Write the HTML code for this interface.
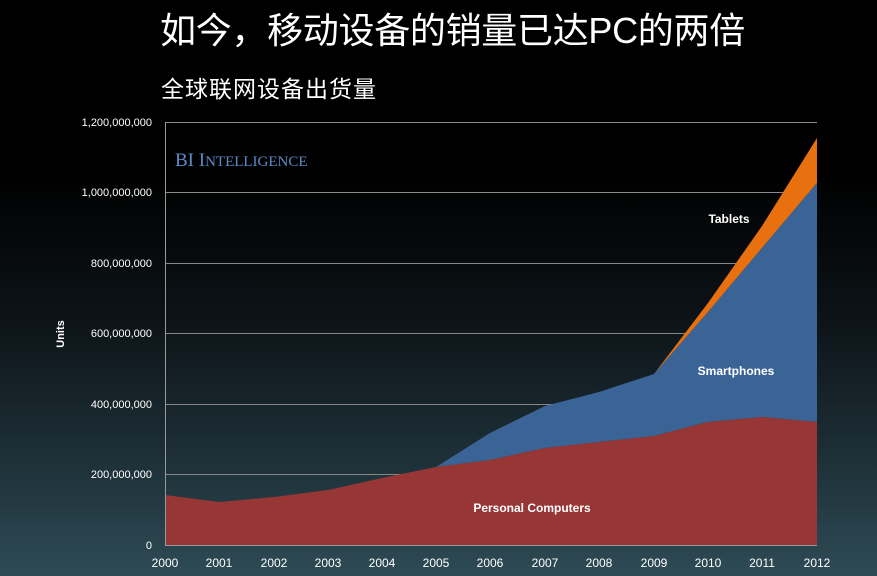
<!DOCTYPE html>
<html><head><meta charset="utf-8"><style>
html,body{margin:0;padding:0}
body{width:877px;height:576px;overflow:hidden;background:linear-gradient(to bottom,#000 0%,#000 30%,#0c1317 55%,#1e3038 80%,#2e4b55 100%);font-family:"Liberation Sans","Noto Sans CJK SC",sans-serif;color:#fff;position:relative}
.t1{position:absolute;left:160px;top:2px;font-size:36px;letter-spacing:-0.3px;white-space:nowrap}
.t2{position:absolute;left:161px;top:70px;font-size:23px;letter-spacing:1px;white-space:nowrap}
</style></head><body>
<div class="t1">如今，移动设备的销量已达PC的两倍</div>
<div class="t2">全球联网设备出货量</div>
<svg width="877" height="576" style="position:absolute;left:0;top:0" font-family="Liberation Sans, sans-serif">
<g stroke="#888" stroke-width="1">
<line x1="165" y1="122.5" x2="817" y2="122.5"/>
<line x1="165" y1="192.5" x2="817" y2="192.5"/>
<line x1="165" y1="263.5" x2="817" y2="263.5"/>
<line x1="165" y1="333.5" x2="817" y2="333.5"/>
<line x1="165" y1="404.5" x2="817" y2="404.5"/>
<line x1="165" y1="474.5" x2="817" y2="474.5"/>
</g>
<polygon fill="#e8700f" points="654,374 708,303 762,226 817,138 817,183 762,248 708,312 654,374"/>
<polygon fill="#3b6496" points="436,467 490,433 545,406 599,392 654,374 708,312 762,248 817,183 817,422 762,417 708,422 654,436 599,442 545,448 490,460"/>
<polygon fill="#963736" points="165,495 219,502 274,497 328,490 382,478 436,467 490,460 545,448 599,442 654,436 708,422 762,417 817,422 817,545 165,545"/>
<g stroke="#999" stroke-width="1">
<line x1="165.5" y1="122" x2="165.5" y2="545"/>
<line x1="165" y1="545.5" x2="817" y2="545.5"/>
</g>
<g fill="#fff" font-size="11" text-anchor="end">
<text x="152" y="126">1,200,000,000</text>
<text x="152" y="196">1,000,000,000</text>
<text x="152" y="267">800,000,000</text>
<text x="152" y="337">600,000,000</text>
<text x="152" y="408">400,000,000</text>
<text x="152" y="478">200,000,000</text>
<text x="152" y="549">0</text>
</g>
<g fill="#fff" font-size="12" text-anchor="middle">
<text x="165" y="567">2000</text><text x="219" y="567">2001</text><text x="274" y="567">2002</text><text x="328" y="567">2003</text><text x="382" y="567">2004</text><text x="436" y="567">2005</text><text x="490" y="567">2006</text><text x="545" y="567">2007</text><text x="599" y="567">2008</text><text x="654" y="567">2009</text><text x="708" y="567">2010</text><text x="762" y="567">2011</text><text x="817" y="567">2012</text>
</g>
<text x="64" y="334" fill="#fff" font-size="11" font-weight="bold" text-anchor="middle" transform="rotate(-90 64 334)">Units</text>
<text x="175" y="166" fill="#5b8cc8" font-family="Liberation Serif, serif" font-size="19">BI I<tspan font-size="15">NTELLIGENCE</tspan></text>
<g fill="#fff" font-size="12" font-weight="bold" text-anchor="middle">
<text x="729" y="223">Tablets</text>
<text x="736" y="375">Smartphones</text>
<text x="532" y="512">Personal Computers</text>
</g>
</svg>
</body></html>
